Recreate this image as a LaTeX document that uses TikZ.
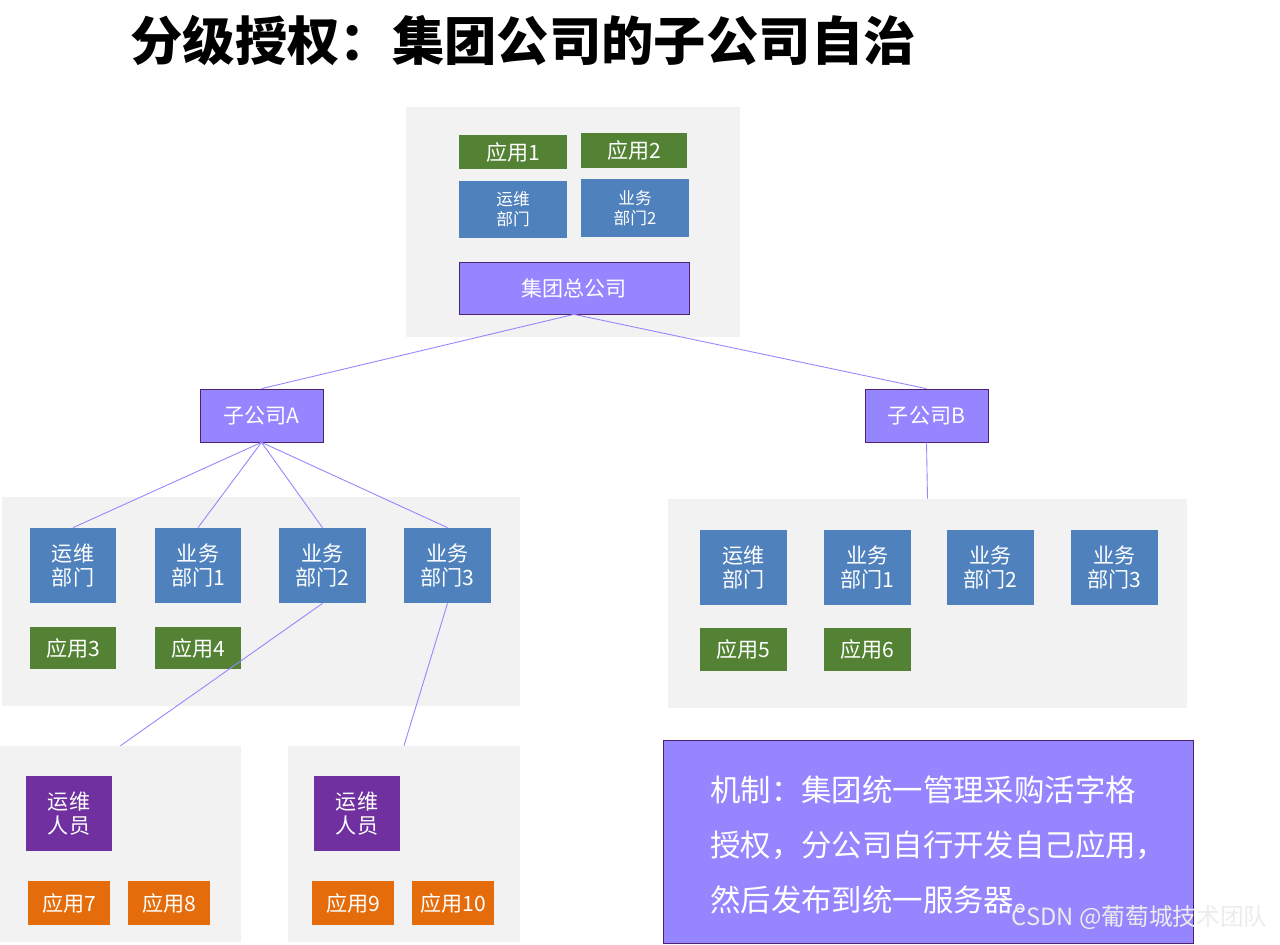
\documentclass[tikz,border=0pt]{standalone}
\usepackage{fontspec}
\setmainfont{Noto Sans CJK SC}
\usetikzlibrary{positioning}
\definecolor{appgreen}{HTML}{548235}
\definecolor{deptblue}{HTML}{4F81BD}
\definecolor{lilac}{HTML}{9585FF}
\definecolor{staffpurple}{HTML}{7030A0}
\definecolor{apporange}{HTML}{E46C0A}
\definecolor{panel}{HTML}{F2F2F2}
\tikzset{
  base/.style={inner sep=0pt, align=center, text=white, font=\fontsize{12}{14}\selectfont},
  panel/.style={fill=panel, inner sep=0pt},
  app/.style={base, fill=appgreen},
  dept/.style={base, fill=deptblue},
  org/.style={base, fill=lilac, draw=staffpurple!70!black, line width=0.4pt},
  staff/.style={base, fill=staffpurple},
  orange/.style={base, fill=apporange},
  link/.style={draw=lilac, line width=0.5pt}
}
% box from corner (x1,y1) to (x2,y2) in pixels
\newcommand\blk[7]{\node[#6, minimum width={(#4-#2)*0.02cm}, minimum height={(#5-#3)*0.02cm}]
  (#1) at ({(#2+#4)/2},{(#3+#5)/2}) {#7};}
\begin{document}
\begin{tikzpicture}[x=0.02cm, y=-0.02cm]
    \useasboundingbox[fill=white] (0,0) rectangle (1280,944);

    % Title
    \node[font=\fontsize{29.8}{32}\selectfont\bfseries, anchor=west, inner sep=0pt] (title) at (130,40) {分级授权：集团公司的子公司自治};

    % Headquarters
    \blk{top}{406}{107}{740}{337}{panel}{}
    \blk{app1}{459}{135}{567}{169}{app}{应用1}
    \blk{app2}{581}{133}{687}{168}{app}{应用2}
    \blk{hqops}{459}{181}{567}{238}{dept, font=\fontsize{9.5}{11.5}\selectfont}{运维\\部门}
    \blk{hqbiz}{581}{179}{689}{237}{dept, font=\fontsize{9.5}{11.5}\selectfont}{业务\\部门2}
    \blk{hq}{459}{262}{689}{314}{org}{集团总公司}

    % Subsidiaries
    \blk{subA}{200}{389}{323}{442}{org}{子公司A}
    \blk{subB}{865}{389}{988}{442}{org}{子公司B}

    % Subsidiary A
    \blk{panA}{2}{497}{520}{706}{panel}{}
    \blk{aops}{30}{528}{116}{603}{dept}{运维\\部门}
    \blk{abiz1}{155}{528}{241}{603}{dept}{业务\\部门1}
    \blk{abiz2}{279}{528}{366}{603}{dept}{业务\\部门2}
    \blk{abiz3}{404}{528}{491}{603}{dept}{业务\\部门3}
    \blk{app3}{30}{627}{116}{669}{app}{应用3}
    \blk{app4}{155}{627}{241}{669}{app}{应用4}

    % Subsidiary B
    \blk{panB}{668}{499}{1187}{708}{panel}{}
    \blk{bops}{700}{530}{787}{605}{dept}{运维\\部门}
    \blk{bbiz1}{824}{530}{911}{605}{dept}{业务\\部门1}
    \blk{bbiz2}{947}{530}{1034}{605}{dept}{业务\\部门2}
    \blk{bbiz3}{1071}{530}{1158}{605}{dept}{业务\\部门3}
    \blk{app5}{700}{628}{787}{671}{app}{应用5}
    \blk{app6}{824}{628}{911}{671}{app}{应用6}

    % Teams
    \blk{teamL}{0}{746}{241}{942}{panel}{}
    \blk{teamR}{288}{746}{520}{942}{panel}{}
    \blk{staffL}{26}{776}{112}{851}{staff}{运维\\人员}
    \blk{staffR}{314}{776}{400}{851}{staff}{运维\\人员}
    \blk{app7}{28}{881}{110}{925}{orange}{应用7}
    \blk{app8}{128}{881}{210}{925}{orange}{应用8}
    \blk{app9}{312}{881}{394}{925}{orange}{应用9}
    \blk{app10}{412}{881}{494}{925}{orange}{应用10}

    % Mechanism
    \blk{rule}{663}{740}{1193}{943}{org}{}
    \node[text=white, anchor=north west, align=left, inner sep=0pt,
          font=\fontsize{17.3}{31.5}\selectfont] (ruletext) at (710,775)
          {机制：集团统一管理采购活字格\\授权，分公司自行开发自己应用，\\然后发布到统一服务器。};
    \node[text=white!85!gray, anchor=east, inner sep=0pt, font=\fontsize{13.5}{15}\selectfont] (mark) at (1268,918) {CSDN @葡萄城技术团队};

    % Links
    \draw[link] (hq.south) -- (subA.north);
    \draw[link] (hq.south) -- (subB.north);
    \foreach \d in {aops, abiz1, abiz2, abiz3}
      \draw[link] (subA.south) -- (\d.north);
    \draw[link] (subB.south) -- (panB.north);
    \draw[link] (abiz2.south) -- (teamL.north);
    \draw[link] (abiz3.south) -- (teamR.north);

\end{tikzpicture}
\end{document}
